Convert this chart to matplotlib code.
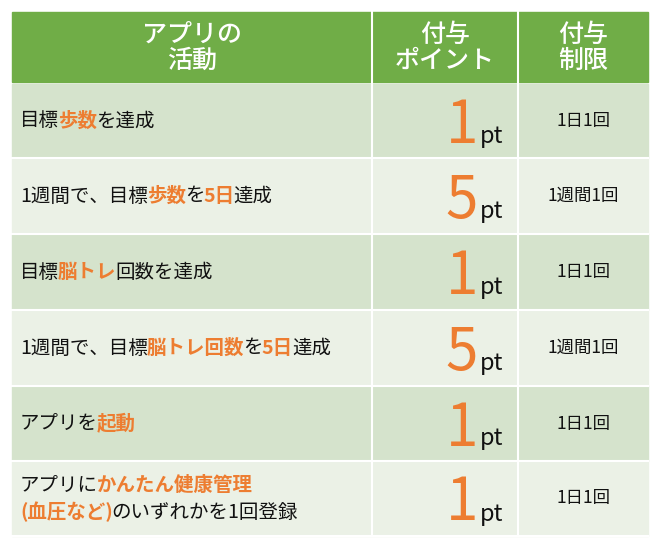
import matplotlib
matplotlib.use("Agg")
import matplotlib.pyplot as plt
from matplotlib.patches import Rectangle

plt.rcParams["font.family"] = "Noto Sans CJK JP"

headers = ["アプリの\n活動", "付与\nポイント", "付与\n制限"]
activities = [
    [[("目標", 0), ("歩数", 1), ("を達成", 0)]],
    [[("1週間で、目標", 0), ("歩数", 1), ("を", 0), ("5日", 1), ("達成", 0)]],
    [[("目標", 0), ("脳トレ", 1), ("回数を達成", 0)]],
    [[("1週間で、目標", 0), ("脳トレ回数", 1), ("を", 0), ("5日", 1), ("達成", 0)]],
    [[("アプリを", 0), ("起動", 1)]],
    [[("アプリに", 0), ("かんたん健康管理", 1)], [("(血圧など)", 1), ("のいずれかを1回登録", 0)]],
]
points = [1, 5, 1, 5, 1, 1]
limits = ["1日1回", "1週間1回", "1日1回", "1週間1回", "1日1回", "1日1回"]

GREEN = "#70ad47"
ORANGE = "#ed7d31"
DARK = "#d5e3cc"
LIGHT = "#ebf1e6"
TXT = "#111111"

fig = plt.figure(figsize=(6.5, 5.38), dpi=100)
ax = fig.add_axes([0, 0, 1, 1])
ax.set_xlim(0, 650)
ax.set_ylim(538, 0)
ax.axis("off")

cols = [12, 372, 518, 648]
header_top, header_bot = 12, 82
row_edges = [84, 158, 234, 310, 386, 461, 536]

ax.add_patch(Rectangle((cols[0], header_top), cols[-1] - cols[0], header_bot - header_top, color=GREEN))
for i, h in enumerate(headers):
    ax.text((cols[i] + cols[i + 1]) / 2, (header_top + header_bot) / 2 + 1, h, color="white",
            fontsize=18, fontweight="medium", ha="center", va="center", linespacing=1.0)
for c in cols[1:-1]:
    ax.plot([c, c], [header_top, header_bot], color="white", lw=1.5)

fig.canvas.draw()
renderer = fig.canvas.get_renderer()
inv = ax.transData.inverted()

for r in range(len(points)):
    y0, y1 = row_edges[r], row_edges[r + 1]
    ax.add_patch(Rectangle((cols[0], y0), cols[-1] - cols[0], y1 - y0,
                           color=DARK if r % 2 == 0 else LIGHT))
    for c in cols[1:-1]:
        ax.plot([c, c], [y0, y1], color="white", lw=1.5)
    ax.plot([cols[0], cols[-1]], [y1, y1], color="white", lw=1.5)
    yc = (y0 + y1) / 2
    lines = activities[r]
    n = len(lines)
    for li, line in enumerate(lines):
        yl = yc + (li - (n - 1) / 2) * 27
        x = 20
        for txt, hi in line:
            t = ax.text(x, yl, txt, fontsize=14, va="center", ha="left",
                        color=ORANGE if hi else TXT, fontweight="bold" if hi else "normal")
            bb = t.get_window_extent(renderer)
            x0d = inv.transform((bb.x0, 0))[0]
            x1d = inv.transform((bb.x1, 0))[0]
            x += x1d - x0d - 1
    ax.text(478, yc + 22, str(points[r]), fontsize=42, color=ORANGE, ha="right", va="baseline")
    ax.text(480, yc + 22, "pt", fontsize=17, color=TXT, ha="left", va="baseline")
    ax.text((cols[2] + cols[3]) / 2, yc, limits[r], fontsize=12.5, color=TXT,
            ha="center", va="center")

fig.savefig("out.png", dpi=100)
